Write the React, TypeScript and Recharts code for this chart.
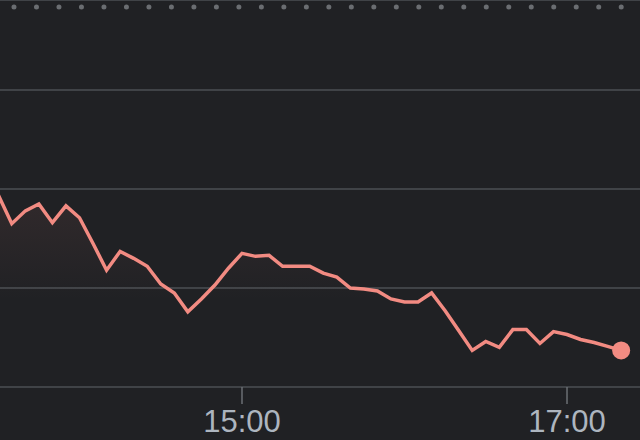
import React from "react";
import {
  AreaChart,
  Area,
  XAxis,
  YAxis,
  CartesianGrid,
  ReferenceLine,
  ReferenceDot,
} from "recharts";

// 5-minute intraday prices, 13:30 .. 17:20
const times = [
  "13:30", "13:35", "13:40", "13:45", "13:50", "13:55",
  "14:00", "14:05", "14:10", "14:15", "14:20", "14:25",
  "14:30", "14:35", "14:40", "14:45", "14:50", "14:55",
  "15:00", "15:05", "15:10", "15:15", "15:20", "15:25",
  "15:30", "15:35", "15:40", "15:45", "15:50", "15:55",
  "16:00", "16:05", "16:10", "16:15", "16:20", "16:25",
  "16:30", "16:35", "16:40", "16:45", "16:50", "16:55",
  "17:00", "17:05", "17:10", "17:15", "17:20",
];

const prices = [
  130.94, 130.65, 130.78, 130.85, 130.66, 130.83,
  130.71, 130.45, 130.18, 130.37, 130.3, 130.22,
  130.04, 129.95, 129.76, 129.89, 130.03, 130.2,
  130.35, 130.32, 130.33, 130.22, 130.22, 130.22,
  130.15, 130.11, 130.0, 129.99, 129.97, 129.89,
  129.86, 129.86, 129.95, 129.77, 129.57, 129.37,
  129.46, 129.4, 129.58, 129.58, 129.44, 129.56,
  129.53, 129.48, 129.45, 129.41, 129.37,
];

const priceTicks = [129, 130, 131, 132];
const timeTicks = ["15:00", "17:00"];
const previousClose = 132.84;

const toMinutes = (t: string) => {
  const [h, m] = t.split(":").map(Number);
  return h * 60 + m;
};

const data = times.map((t, i) => ({ m: toMinutes(t), price: prices[i] }));
const last = data[data.length - 1];

const fmt = (v: number) =>
  `${Math.floor(v / 60)}:${String(v % 60).padStart(2, "0")}`;

export default function App() {
  return (
    <div
      style={{
        position: "absolute",
        left: 0,
        top: 0,
        width: 640,
        height: 440,
        background: "#202124",
      }}
    >
      <AreaChart
        width={640}
        height={440}
        data={data}
        margin={{ top: 0, right: 0, bottom: 0, left: 0 }}
      >
        <defs>
          <linearGradient id="priceFill" x1="0" y1="0" x2="0" y2="1">
            <stop offset="0%" stopColor="#f28b82" stopOpacity={0.14} />
            <stop offset="55%" stopColor="#f28b82" stopOpacity={0} />
          </linearGradient>
        </defs>
        <CartesianGrid vertical={false} stroke="#404347" strokeWidth={2} />
        <XAxis
          dataKey="m"
          type="number"
          domain={[810.65, 1046.95]}
          allowDataOverflow
          ticks={timeTicks.map(toMinutes)}
          tickFormatter={fmt}
          axisLine={false}
          tickLine={{ stroke: "#6b6f74", strokeWidth: 1.5 }}
          tickSize={17}
          tickMargin={6}
          height={53}
          tick={{
            fill: "#adb5bf",
            fontSize: 31,
            fontFamily: "Arial, 'Liberation Sans', sans-serif",
          }}
        />
        <YAxis
          hide
          type="number"
          domain={[129, 132.91]}
          ticks={priceTicks}
          allowDataOverflow
        />
        <ReferenceLine
          y={previousClose}
          stroke="#6a6d71"
          strokeWidth={5}
          strokeLinecap="round"
          strokeDasharray="0 22.49"
          strokeDashoffset={8.5}
        />
        <Area
          type="linear"
          dataKey="price"
          stroke="#f28b82"
          strokeWidth={3.5}
          fill="url(#priceFill)"
          dot={false}
          activeDot={false}
          isAnimationActive={false}
        />
        <ReferenceDot
          x={last.m}
          y={last.price}
          r={9}
          fill="#f28b82"
          stroke="none"
        />
      </AreaChart>
    </div>
  );
}
